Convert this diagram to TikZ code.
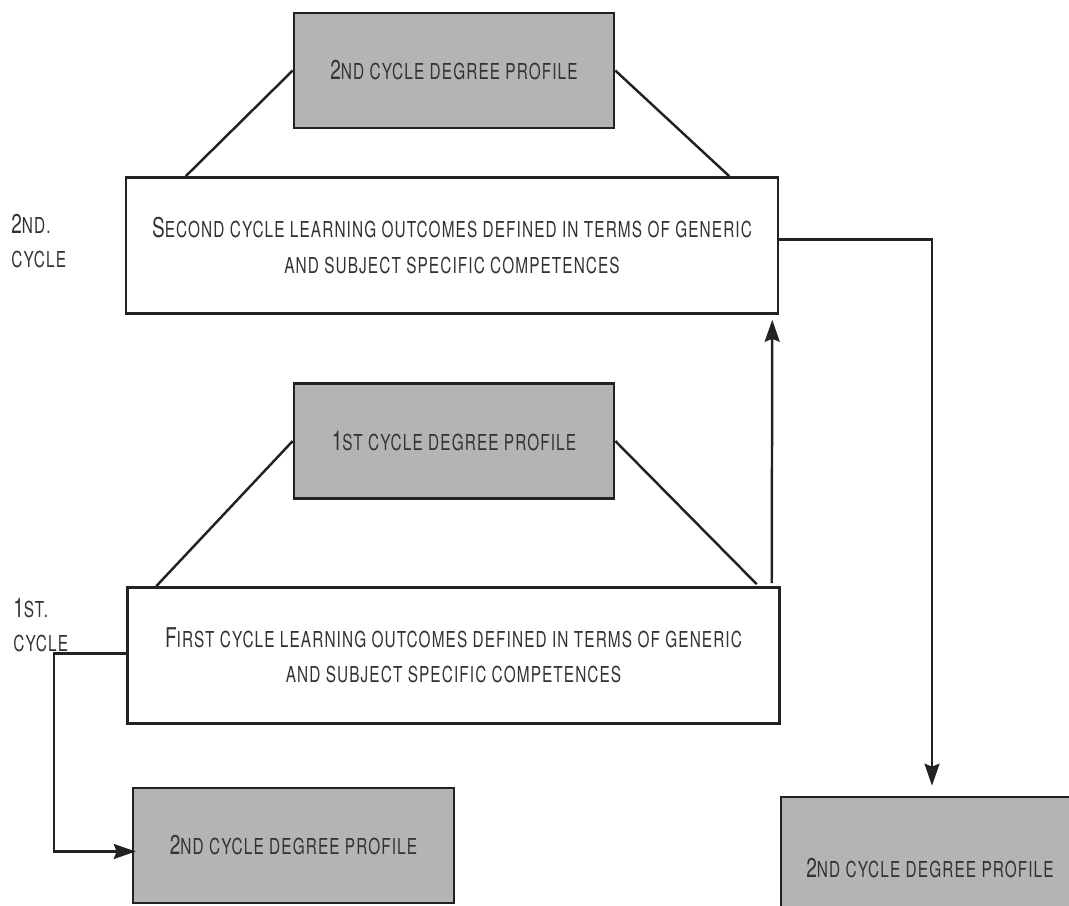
\documentclass[tikz,border=0pt]{standalone}
\usepackage{fontspec}
\setmainfont{TeX Gyre Heros}[FakeStretch=0.70,LetterSpace=5]
\usepackage{tikz}
\usetikzlibrary{arrows.meta,calc}
\definecolor{ink}{HTML}{222222}
\definecolor{txt}{HTML}{333333}
\definecolor{shade}{HTML}{B4B4B4}
\newcommand\sck[2]{#1{\fontsize{12.5}{13}\selectfont\MakeUppercase{#2}}}

\begin{document}
\begin{tikzpicture}[x=0.02cm,y=-0.02cm,
  every node/.style={font=\fontsize{15.5}{19}\selectfont,text=txt},
  prof/.style={draw=ink,line width=1.5pt,fill=shade,minimum width=6.4cm,minimum height=2.3cm,inner sep=0pt},
  outbox/.style={draw=ink,line width=1.5pt,fill=white,minimum width=13.04cm,minimum height=2.72cm,align=center,inner sep=0pt},
  lbl/.style={anchor=north west,align=left,inner sep=0pt,font=\fontsize{15.5}{17}\selectfont},
  con/.style={draw=ink,line width=1.4pt},
  arr/.style={con,-{Stealth[length=0.44cm,width=0.3cm,inset=0.06cm]}}]
  \useasboundingbox (0,0) rectangle (1069,906);
  \node[prof] (prof2) at (454,70.5) {\sck{2}{nd cycle degree profile}};
  \node[outbox] (out2) at (452,245.5) {\sck{S}{econd cycle learning outcomes defined in terms of generic}\\[1pt]
    \sck{}{and subject specific competences}};
  \node[prof] (prof1) at (454,441) {\sck{1}{st cycle degree profile}};
  \node[outbox] (out1) at (453.5,655.5) {\sck{F}{irst cycle learning outcomes defined in terms of generic}\\[1pt]
    \sck{}{and subject specific competences}};
  \node[prof,minimum width=6.42cm] (bl) at (293.5,845.5) {\sck{2}{nd cycle degree profile}};
  \node[prof,minimum width=5.96cm,minimum height=2.84cm] (br) at (930,868) {\sck{2}{nd cycle degree profile}};
  \node[lbl] (lab2) at (11,214) {\sck{2}{nd.}\\[2pt]\sck{}{cycle}};
  \node[lbl] (lab1) at (13,598) {\sck{1}{st.}\\[2pt]\sck{}{cycle}};
  \draw[con] (prof2.west) -- ($(out2.north west)+(61,0)$);
  \draw[con] (prof2.east) -- ($(out2.north east)+(-50,0)$);
  \draw[con] (prof1.west) -- ($(out1.north west)+(30,0)$);
  \draw[con] (prof1.east) -- ($(out1.north east)+(-24,-2)$);
  \draw[arr] ($(out1.north east)+(-9,-3)$) -- ($(out2.south east)+(-7,5)$);
  \draw[arr] ($(out2.east)+(0,-6)$) -| ($(br.north)+(2,-10)$);
  \draw[arr] ($(out1.west)+(0,-2)$) -- (54,653.5) |- ($(bl.west)+(4,6)$);
\end{tikzpicture}
\end{document}
